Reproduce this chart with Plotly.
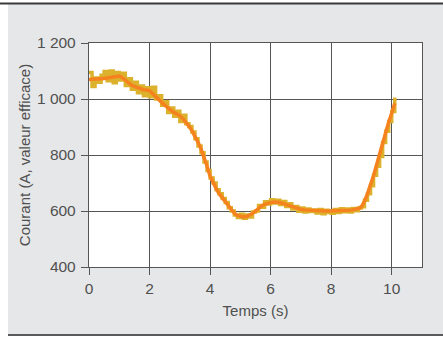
import plotly.graph_objects as go

# Sample times (s)
TIME_S = [0.0, 0.1, 0.2, 0.3, 0.4, 0.5, 0.6, 0.7, 0.8, 0.9,
          1.0, 1.1, 1.2, 1.3, 1.4, 1.5, 1.6, 1.7, 1.8, 1.9,
          2.0, 2.1, 2.2, 2.3, 2.4, 2.5, 2.6, 2.7, 2.8, 2.9,
          3.0, 3.1, 3.2, 3.3, 3.4, 3.5, 3.6, 3.7, 3.8, 3.9,
          4.0, 4.1, 4.2, 4.3, 4.4, 4.5, 4.6, 4.7, 4.8, 4.9,
          5.0, 5.1, 5.2, 5.3, 5.4, 5.5, 5.6, 5.7, 5.8, 5.9,
          6.0, 6.1, 6.2, 6.3, 6.4, 6.5, 6.6, 6.7, 6.8, 6.9,
          7.0, 7.1, 7.2, 7.3, 7.4, 7.5, 7.6, 7.7, 7.8, 7.9,
          8.0, 8.1, 8.2, 8.3, 8.4, 8.5, 8.6, 8.7, 8.8, 8.9,
          9.0, 9.1, 9.2, 9.3, 9.4, 9.5, 9.6, 9.7, 9.8, 9.9,
          10.0, 10.1]

# Raw measured RMS current (A)
RAW_A = [1095, 1045, 1075, 1060, 1085, 1098, 1065, 1100, 1058, 1095,
         1068, 1092, 1048, 1072, 1035, 1060, 1022, 1046, 1012, 1040,
         1008, 1042, 1000, 1012, 978, 990, 952, 968, 938, 956,
         920, 942, 912, 902, 882, 858, 832, 808, 775, 745,
         718, 700, 676, 662, 645, 630, 612, 600, 586, 577,
         588, 574, 586, 579, 596, 600, 620, 613, 633, 625,
         640, 629, 638, 623, 634, 616, 626, 607, 616, 599,
         611, 596, 607, 598, 604, 593, 605, 590, 603, 595,
         592, 605, 595, 608, 597, 607, 596, 609, 601, 611,
         615, 638, 662, 690, 728, 760, 795, 845, 885, 920,
         955, 1005]

# Smoothed RMS current (A)
SMOOTH_A = [1070, 1070, 1070, 1071, 1072, 1073, 1075, 1077, 1079, 1081,
            1082, 1076, 1066, 1057, 1050, 1045, 1040, 1035, 1033, 1032,
            1030, 1020, 1008, 998, 988, 978, 968, 960, 953, 947,
            940, 930, 918, 903, 887, 868, 846, 822, 795, 760,
            725, 700, 680, 662, 647, 633, 618, 604, 592, 584,
            580, 579, 580, 584, 591, 600, 610, 618, 624, 628,
            630, 632, 632, 630, 627, 623, 619, 615, 611, 608,
            606, 604, 603, 602, 601, 600, 600, 600, 600, 600,
            600, 600, 600, 601, 601, 602, 603, 604, 606, 609,
            615, 635, 662, 692, 727, 765, 805, 848, 885, 918,
            950, 985]

Y_TICKS = [400, 600, 800, 1000, 1200]
Y_TICK_TEXT = ["400", "600", "800", "1 000", "1 200"]
X_TICKS = [0, 2, 4, 6, 8, 10]

INK = "#555555"
TEXT = "#505050"
PANEL = "#e6e7e8"
FONT = "Liberation Sans, Arial, sans-serif"

W, H = 443, 338
ML, MR, MT, MB = 89, 21, 43, 71
PW, PH = W - ML - MR, H - MT - MB


def px_x(px):
    """Pixel column -> paper x."""
    return (px - ML) / PW


def px_y(py):
    """Pixel row (from top) -> paper y."""
    return (H - MB - py) / PH


fig = go.Figure()
fig.add_trace(go.Scatter(
    x=TIME_S, y=RAW_A, mode="lines", line_shape="hv",
    line=dict(color="#dcb22c", width=3.5), hoverinfo="skip", showlegend=False))
fig.add_trace(go.Scatter(
    x=TIME_S, y=SMOOTH_A, mode="lines",
    line=dict(color="#f5821f", width=3.5), showlegend=False))

axis_common = dict(
    showgrid=True, gridcolor=INK, gridwidth=1.3,
    showline=True, linecolor=INK, linewidth=1.3, mirror=True,
    ticks="outside", ticklen=7, tickcolor=INK, tickwidth=1.2,
    zeroline=False, tickfont=dict(family=FONT, size=15.5, color=TEXT),
)

fig.update_xaxes(range=[0, 11], tickvals=X_TICKS, title_text="Temps (s)",
                 title_standoff=9,
                 title_font=dict(family=FONT, size=15, color=TEXT),
                 **axis_common)
fig.update_yaxes(range=[400, 1200], tickvals=Y_TICKS, ticktext=Y_TICK_TEXT,
                 ticklabelstandoff=2,
                 title_text="Courant (A, valeur efficace)", title_standoff=2,
                 title_font=dict(family=FONT, size=15, color=TEXT),
                 **axis_common)

fig.update_layout(
    width=W, height=H,
    margin=dict(l=ML, r=MR, t=MT, b=MB),
    paper_bgcolor=PANEL, plot_bgcolor="white",
    shapes=[
        # white margins around the grey panel
        dict(type="rect", xref="paper", yref="paper", layer="above",
             x0=px_x(0), x1=px_x(W), y0=px_y(0), y1=px_y(4),
             fillcolor="white", line=dict(width=0)),
        dict(type="rect", xref="paper", yref="paper", layer="above",
             x0=px_x(0), x1=px_x(8), y0=px_y(0), y1=px_y(H),
             fillcolor="white", line=dict(width=0)),
        dict(type="rect", xref="paper", yref="paper", layer="above",
             x0=px_x(0), x1=px_x(W), y0=px_y(335), y1=px_y(H),
             fillcolor="white", line=dict(width=0)),
        # rules above and below the panel
        dict(type="line", xref="paper", yref="paper", layer="above",
             x0=px_x(0), x1=px_x(W), y0=px_y(3.5), y1=px_y(3.5),
             line=dict(color="#3a3a3a", width=1.8)),
        dict(type="line", xref="paper", yref="paper", layer="above",
             x0=px_x(8), x1=px_x(W), y0=px_y(335), y1=px_y(335),
             line=dict(color="#5a5a5a", width=1.8)),
    ],
)

fig.write_html("out.html")
